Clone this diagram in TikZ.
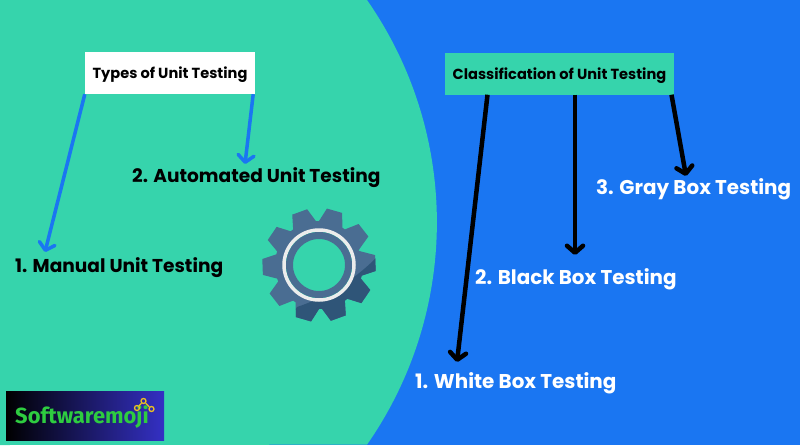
\documentclass[tikz,border=0pt]{standalone}
\usepackage{fontspec}
\setmainfont{Poppins}
\newfontfamily\logofont{Fira Sans}
\usetikzlibrary{arrows.meta}

\definecolor{seagreen}{HTML}{36D4AC}
\definecolor{skyblue}{HTML}{1A76F2}
\definecolor{gearblue}{HTML}{4A6D92}
\definecolor{geardark}{HTML}{2F5578}
\definecolor{logogreen}{HTML}{2ECC40}
\definecolor{logoyellow}{HTML}{EBC022}
\definecolor{logoblue}{HTML}{3430C4}

\tikzset{
  title box/.style={minimum height=42pt, inner sep=0pt, text depth=0pt, font=\fontsize{14.6}{16}\selectfont\bfseries},
  item label/.style={inner sep=0pt, anchor=west, font=\fontsize{18.6}{22}\selectfont\bfseries},
  white label/.style={item label, text=white, font=\fontsize{19.9}{23}\selectfont\bfseries},
  blue arrow/.style={->, draw=skyblue, line width=3.5pt},
  black arrow/.style={->, draw=black, line width=4.5pt},
  logo dot/.style={circle, draw=logoyellow, line width=1.3pt, minimum size=5pt, inner sep=0pt},
}

% outline of the gear, one tooth at a time
\newcommand{\gearoutline}{
  (319,265) +(-20:42)
  \foreach \a in {-2,34,...,322}
    { -- +(\a-16:44) -- +(\a-8:57) -- +(\a+8:57) -- +(\a+16:44) } -- cycle
}

\begin{document}
\begin{tikzpicture}[x=1pt, y=-1pt, >={Straight Barb[length=7pt, width=16pt, round]}]

\useasboundingbox (0,0) rectangle (800,445);
\fill [skyblue] (0,0) rectangle (800,445);
\fill [seagreen] (0,0) -- (367,0) arc [start angle=-34.9, end angle=34.9, radius=388.6] -- (0,445) -- cycle;

\node [title box, fill=white, minimum width=170pt] (types) at (170,73) {Types of Unit Testing};
\node [title box, fill=seagreen, minimum width=229pt] (classification) at (559.5,73.5) {Classification of Unit Testing};

\foreach \m/\l/\x/\y in {manual/1. Manual Unit Testing/15/268, automated/2. Automated Unit Testing/132/177.5}
  \node [item label, text=black] (\m) at (\x,\y) {\l};

\foreach \m/\l/\x/\y in {white/1. White Box Testing/415/383, black/2. Black Box Testing/475/279, gray/3. Gray Box Testing/596/189}
  \node [white label] (\m) at (\x,\y) {\l};

\coordinate (manual-tip) at (45,252);
\coordinate (automated-tip) at (245,164);
\coordinate (white-tip) at (457,362);
\coordinate (black-tip) at (575,255);
\coordinate (gray-tip) at (686,176);

\draw [blue arrow] (types.south west) -- (manual-tip);
\draw [blue arrow] ([xshift=-2pt]types.south east) -- (automated-tip);

\draw [black arrow] ([xshift=-72pt]classification.south) -- (white-tip);
\draw [black arrow] ([xshift=15.5pt]classification.south) -- (black-tip);
\draw [black arrow] ([xshift=112pt]classification.south) -- (gray-tip);

% gear
\fill [gearblue] \gearoutline;
\begin{scope}
  \clip \gearoutline;
  \fill [geardark] (382,250) -- (376,258) .. controls (357,277) and (330,296) .. (297,307) -- (285,330) -- (382,330) -- cycle;
\end{scope}
\node [circle, draw=white!85!gray, fill=seagreen, line width=3.5pt, minimum size=70pt, inner sep=0pt] (ring) at (319,265) {};
\node [circle, draw=gearblue, fill=seagreen, line width=7pt, minimum size=59pt, inner sep=0pt] (hole) at (319,265) {};

% logo
\node [left color=black, right color=logoblue, minimum width=158pt, minimum height=49pt, inner sep=0pt] (logo) at (85,415.5) {};
\node [text=logogreen, inner sep=0pt, font=\logofont\fontsize{21.9}{24}\selectfont\bfseries] (logo-text) at (82,417) {Softwaremoji};
\node [logo dot] (dot-1) at (137,408) {};
\node [logo dot] (dot-2) at (143.5,401) {};
\node [logo dot] (dot-3) at (151.5,409) {};
\draw [logoyellow, line width=1.3pt] (dot-1) -- (dot-2);
\draw [logoyellow, line width=1.3pt] (dot-2) -- (dot-3);

\end{tikzpicture}
\end{document}
